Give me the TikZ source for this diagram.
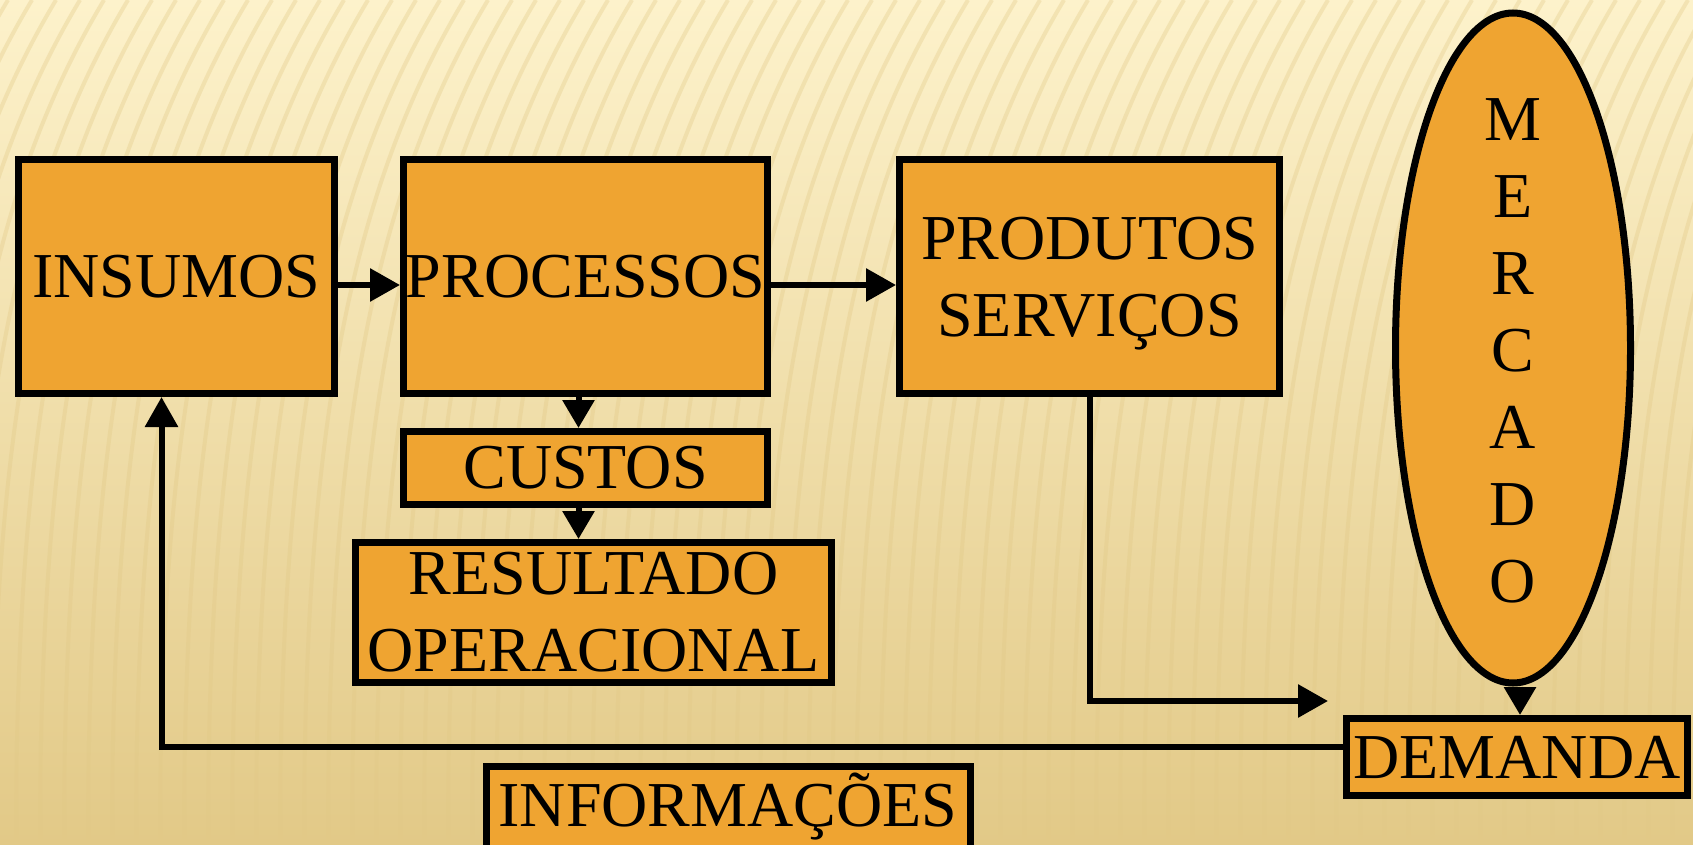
\documentclass[tikz,border=0pt]{standalone}
\usepackage{fontspec}
\setmainfont{Liberation Serif}
\usetikzlibrary{arrows.meta,shapes.geometric}
\definecolor{boxorange}{HTML}{EFA431}
\definecolor{paperlight}{HTML}{FDF2CB}
\definecolor{paperdark}{HTML}{E2C987}

\begin{document}
\begin{tikzpicture}[x=1pt,y=-1pt,
    blk/.style={draw,line width=7pt,fill=boxorange,inner sep=0pt,
      font=\fontsize{64}{77}\selectfont,align=center},
    arr/.style={line width=6pt,-{Triangle[length=30pt,width=32pt]}},
    tip/.style={line width=6pt,-{Triangle[length=28pt,width=31pt]}}]
  % background
  \useasboundingbox (0,0) rectangle (1693,845);
  \shade[top color=paperlight,bottom color=paperdark] (0,0) rectangle (1693,845);
  \foreach \i in {-200,-176,...,1700}
    \draw[paperdark,opacity=0.35,line width=4pt] (\i,845) .. controls (\i,450) and (\i+40,200) .. (\i+160,0);

  % boxes
  \node[blk,minimum width=316pt,minimum height=234pt] (insumos) at (176.5,276.5) {INSUMOS};
  \node[blk,minimum width=364pt,minimum height=234pt] (processos) at (585.5,276.5) {PROCESSOS};
  \node[blk,minimum width=380pt,minimum height=234pt,text depth=0pt] (produtos) at (1089.5,276.5) {PRODUTOS\\SERVIÇOS};
  \node[blk,minimum width=364pt,minimum height=73pt] (custos) at (585.5,468) {CUSTOS};
  \node[blk,minimum width=476pt,minimum height=140pt] (resultado) at (593.5,612.5) {RESULTADO\\OPERACIONAL};
  \node[blk,ellipse,minimum width=235pt,minimum height=670pt] (mercado) at (1513,348) {};
  \node[font=\fontsize{64}{77}\selectfont,align=center,inner sep=0pt] (mercadotxt) at (1513,351) {M\\E\\R\\C\\A\\D\\O};
  \node[blk,minimum width=341pt,minimum height=77pt] (demanda) at (1517,757) {DEMANDA};
  \node[blk,minimum width=484pt,minimum height=82pt] (informacoes) at (728,807) {INFORMAÇÕES};
  \coordinate (entrega) at (1328,701);

  % connectors
  \draw[arr] ([yshift=-8.5pt]insumos.east) -- ([yshift=-8.5pt]processos.west);
  \draw[arr] ([yshift=-8.5pt]processos.east) -- ([yshift=-8.5pt]produtos.west);
  \draw[tip] ([xshift=-7pt]processos.south) -- ([xshift=-7pt]custos.north);
  \draw[tip] ([xshift=-7pt]custos.south) -- ([xshift=-7pt]resultado.north -| custos.south);
  \draw[arr] (produtos.south) |- (entrega);
  \draw[tip] ([xshift=7pt]mercado.south) -- ([xshift=7pt]mercado.south |- demanda.north);
  \draw[arr] ([yshift=10pt]demanda.west) -| ([xshift=-15pt]insumos.south);
\end{tikzpicture}
\end{document}
